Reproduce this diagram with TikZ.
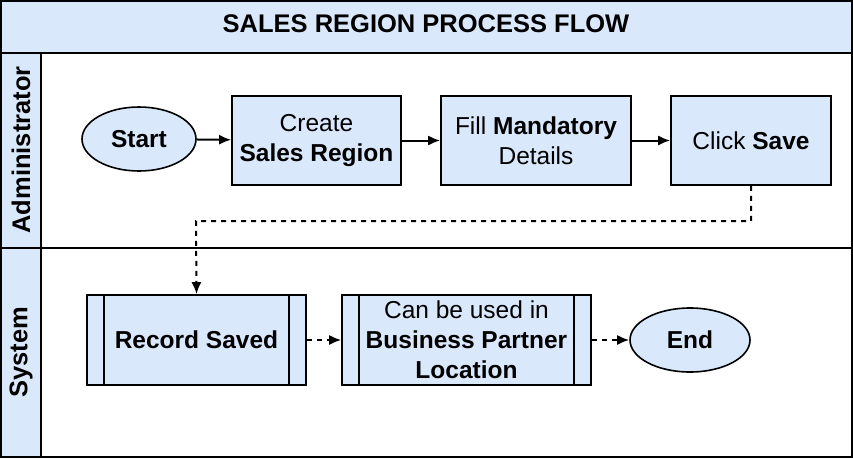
\documentclass[tikz,border=0pt]{standalone}
\usepackage{fontspec}
\setmainfont{Liberation Sans}
\usetikzlibrary{shapes.geometric,arrows.meta}
\begin{document}
\begin{tikzpicture}[x=1pt,y=-1pt,
  box/.style={draw,fill=lane,line width=1.6pt,align=center,font=\fontsize{24.5}{30}\selectfont,inner sep=0},
  arr/.style={-{Latex[length=12pt,width=10pt]},line width=2pt},
  darr/.style={-{Latex[length=12pt,width=10pt]},line width=2pt,dash pattern=on 5pt off 5pt}]
\definecolor{lane}{HTML}{DAE8FC}
\useasboundingbox (0,0) rectangle (853,458);
\draw[line width=1.6pt,fill=lane] (1,1) rectangle (852,53);
\node[font=\fontsize{25.5}{28}\selectfont\bfseries] (title) at (426,24) {SALES REGION PROCESS FLOW};
\draw[line width=1.6pt,fill=lane] (1,53) rectangle (41,248);
\draw[line width=1.6pt] (41,53) rectangle (852,248);
\draw[line width=1.6pt,fill=lane] (1,248) rectangle (41,457);
\draw[line width=1.6pt] (41,248) rectangle (852,457);
\node[rotate=90,font=\fontsize{25.5}{28}\selectfont\bfseries] (l1) at (21,150) {Administrator};
\node[rotate=90,font=\fontsize{25.5}{28}\selectfont\bfseries] (l2) at (21,352) {System};
\node[box,ellipse,minimum width=114,minimum height=64] (start) at (139,139) {\textbf{Start}};
\node[box,minimum width=169,minimum height=89] (create) at (316.5,140.5) {Create\\\textbf{Sales Region}};
\node[box,minimum width=190,minimum height=89] (fill) at (536,140.5) {Fill \textbf{Mandatory}\\Details};
\node[box,minimum width=160,minimum height=89] (save) at (751,140.5) {Click \textbf{Save}};
\node[box,minimum width=219,minimum height=90] (rec) at (196.5,340) {\textbf{Record Saved}};
\draw[line width=1.6pt] (104,295)--(104,385) (289,295)--(289,385);
\node[box,minimum width=249,minimum height=90] (bp) at (466.5,340) {Can be used in\\\textbf{Business Partner}\\\textbf{Location}};
\draw[line width=1.6pt] (359,295)--(359,385) (574,295)--(574,385);
\node[box,ellipse,minimum width=120,minimum height=64] (end) at (690,340) {\textbf{End}};
\draw[arr] (start)--(create);
\draw[arr] (create)--(fill);
\draw[arr] (fill)--(save);
\coordinate (c1) at (751,221);
\coordinate (c2) at (196,221);
\draw[darr] (save.south)--(c1)--(c2)--(rec.north);
\draw[darr] (rec)--(bp);
\draw[darr] (bp)--(end);
\end{tikzpicture}
\end{document}
